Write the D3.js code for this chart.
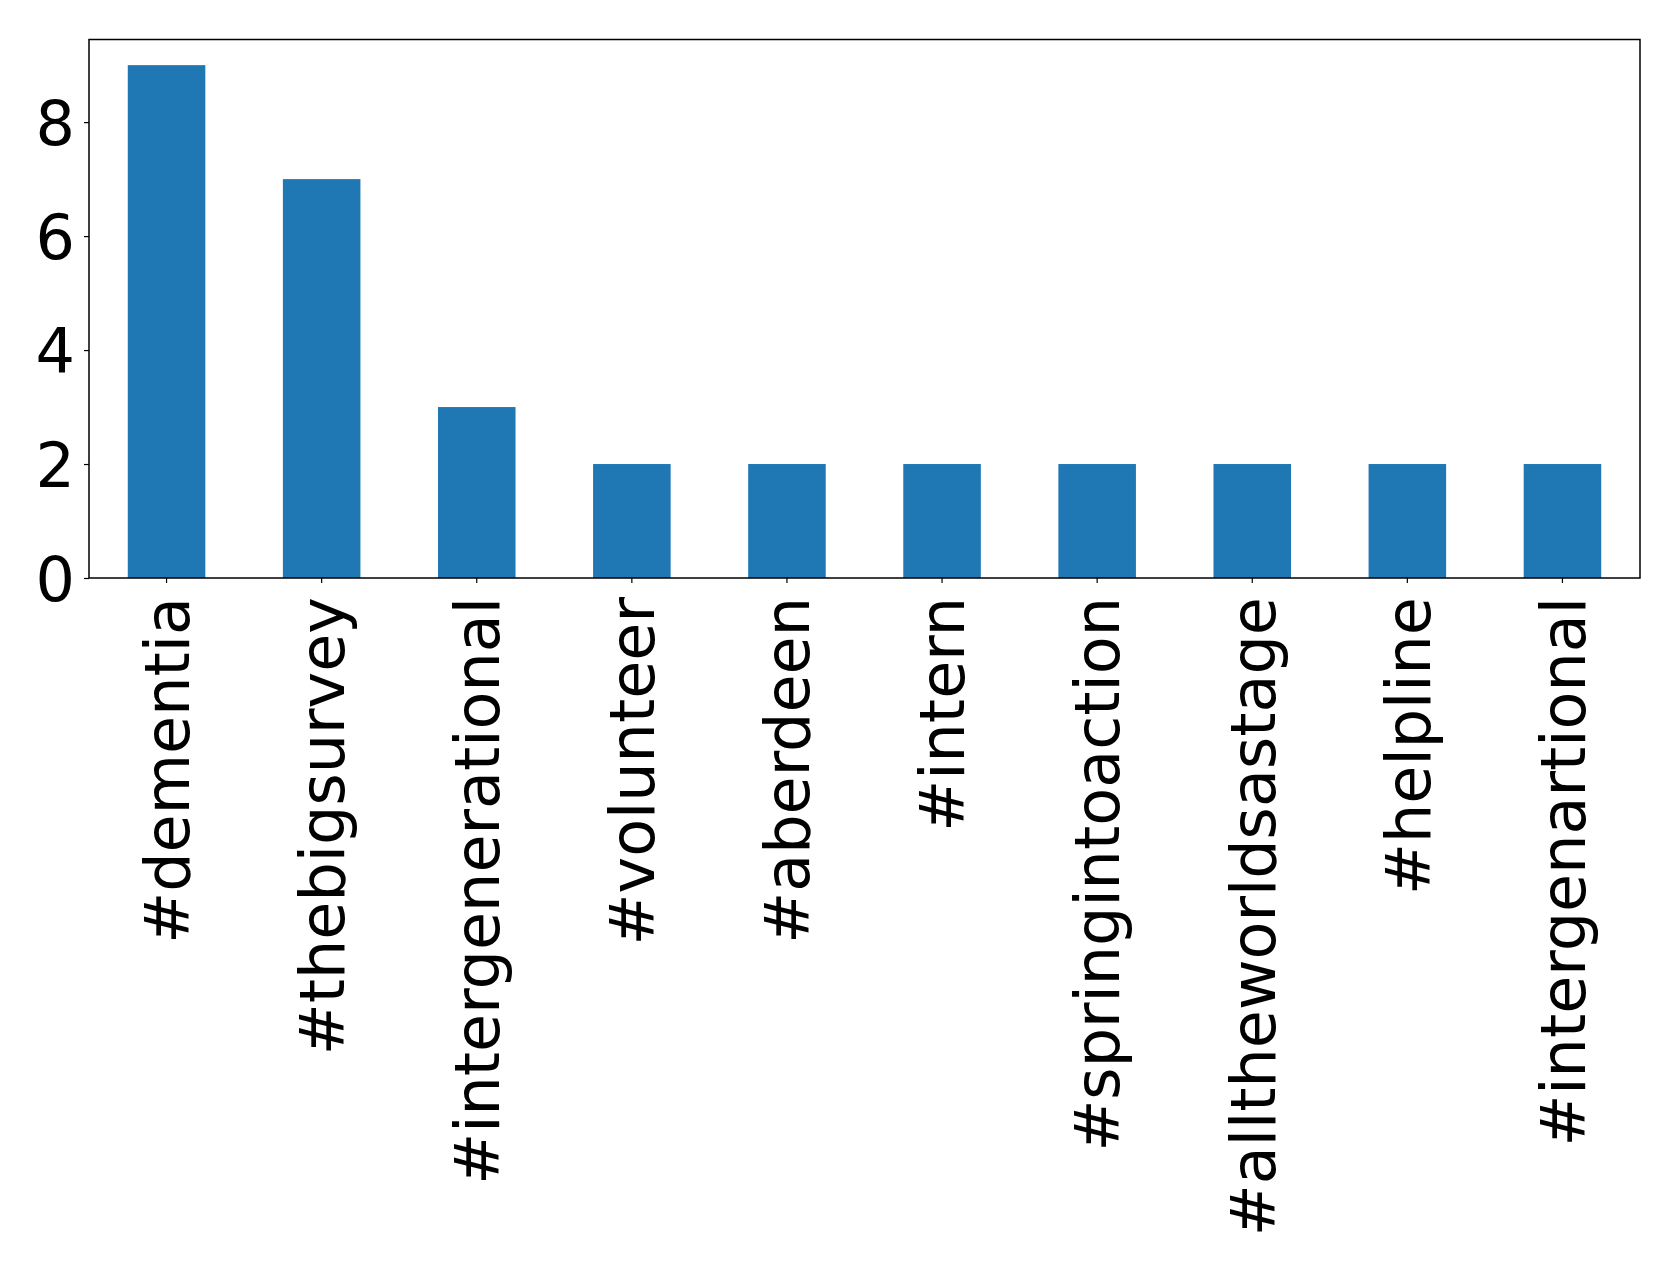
<!DOCTYPE html>
<html><head><meta charset="utf-8">
<script src="https://cdn.jsdelivr.net/npm/d3@7"></script>
<style>body{margin:0;background:#fff}svg{display:block}</style>
</head><body>
<script>
const categories = ["#dementia","#thebigsurvey","#intergenerational","#volunteer","#aberdeen","#intern","#springintoaction","#alltheworldsastage","#helpline","#intergenartional"];
const values = [9,7,3,2,2,2,2,2,2,2];
const yTicks = [0,2,4,6,8];

const W = 1679, H = 1272;
const m = {left: 89, right: 1640, top: 39.5, bottom: 578};
const svg = d3.select("body").append("svg").attr("width", W).attr("height", H);

const x = d3.scaleBand().domain(categories).range([m.left, m.right]).paddingInner(0.5).paddingOuter(0.25);
const y = d3.scaleLinear().domain([0, d3.max(values) * 1.05]).range([m.bottom, m.top]);

svg.selectAll("rect.bar").data(values).enter().append("rect")
  .attr("class","bar")
  .attr("x", (d,i) => x(categories[i]))
  .attr("width", x.bandwidth())
  .attr("y", d => y(d))
  .attr("height", d => y(0) - y(d))
  .attr("fill", "#1f77b4");

const font = "'DejaVu Sans', sans-serif";
const fs = 62;

const ya = svg.append("g").attr("transform", `translate(${m.left},0)`)
  .call(d3.axisLeft(y).tickValues(yTicks).tickSize(5).tickPadding(9).tickFormat(d3.format("d")));
ya.select(".domain").remove();
ya.selectAll("line").attr("stroke","#000").attr("stroke-width",1.2);
ya.selectAll("text").attr("font-family", font).attr("font-size", fs).attr("fill","#000").attr("dy","0.36em");

const xa = svg.append("g").attr("transform", `translate(0,${m.bottom})`)
  .call(d3.axisBottom(x).tickSize(5).tickFormat(""));
xa.select(".domain").remove();
xa.selectAll("line").attr("stroke","#000").attr("stroke-width",1.2);
xa.selectAll("g.tick").append("text")
  .text(d => d)
  .attr("transform", "translate(0,19) rotate(-90)")
  .attr("text-anchor","end")
  .attr("dy","0.36em")
  .attr("font-family", font).attr("font-size", fs).attr("fill","#000");

svg.append("rect").attr("x", m.left).attr("y", m.top)
  .attr("width", m.right - m.left).attr("height", m.bottom - m.top)
  .attr("fill","none").attr("stroke","#000").attr("stroke-width",1.5);
</script>
</body></html>
